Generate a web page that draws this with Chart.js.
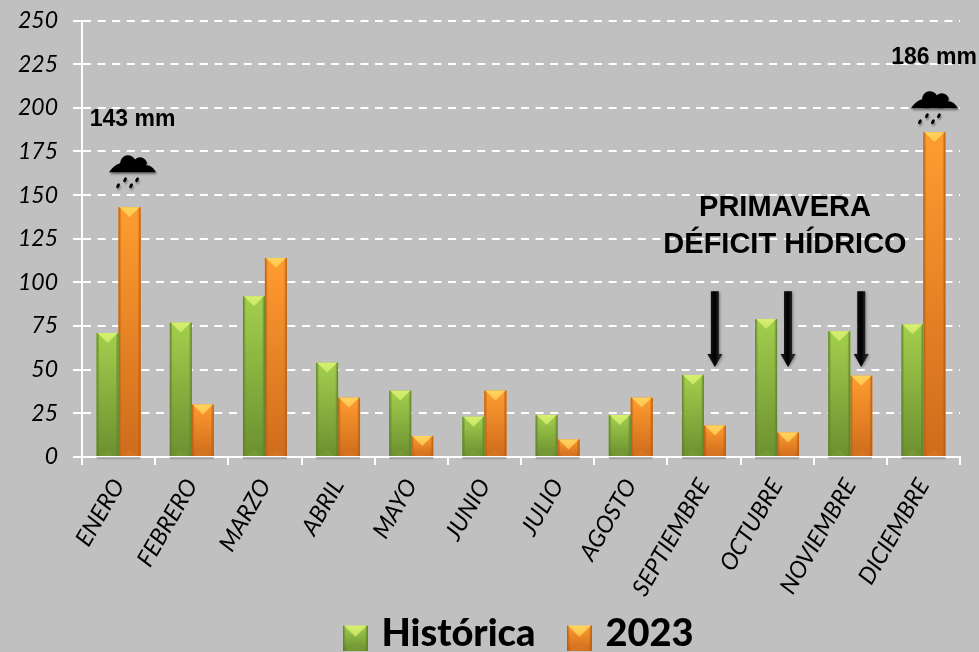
<!DOCTYPE html>
<html><head><meta charset="utf-8">
<style>html,body{margin:0;padding:0;background:#c0c0c0}#w{width:979px;height:652px;position:relative}</style>
<script src="https://cdn.jsdelivr.net/npm/chart.js@4/dist/chart.umd.min.js"></script>
</head><body><div id="w"><canvas id="c" width="979" height="652"></canvas></div>
<script>
const months=['ENERO','FEBRERO','MARZO','ABRIL','MAYO','JUNIO','JULIO','AGOSTO','SEPTIEMBRE','OCTUBRE','NOVIEMBRE','DICIEMBRE'];
const historica=[71,77,92,54,38,23,24,24,47,79,72,76];
const y2023=[143,30,114,34,12,38,10,34,18,14,46.5,186];
const rainMonths=['ENERO','DICIEMBRE'];
const arrowMonths=['SEPTIEMBRE','OCTUBRE','NOVIEMBRE'];
const arrowFrom=95, arrowTo=51.5;
const noteTitle=['PRIMAVERA','DÉFICIT HÍDRICO'];

const GREEN={top:'#a3cf4e',bot:'#6c9030',edge:'#5f7f2b',tri:'#d6f06e',base:'#7d9f3a'};
const ORANGE={top:'#ff9c30',bot:'#cf6c1c',edge:'#b35c15',tri:'#ffd45c',base:'#d87a26'};

function paintBar(ctx,x,y,w,h,p){
  const g=ctx.createLinearGradient(0,y,0,y+h);g.addColorStop(0,p.top);g.addColorStop(1,p.bot);
  ctx.fillStyle=g;ctx.fillRect(x,y,w,h);
  const e=Math.min(3,w/6);
  const l=ctx.createLinearGradient(x,0,x+e,0);l.addColorStop(0,p.edge);l.addColorStop(1,p.edge+'00');
  ctx.fillStyle=l;ctx.fillRect(x,y,e,h);
  const r=ctx.createLinearGradient(x+w,0,x+w-e,0);r.addColorStop(0,p.edge);r.addColorStop(1,p.edge+'00');
  ctx.fillStyle=r;ctx.fillRect(x+w-e,y,e,h);
  const th=Math.min(w*0.45,h*0.6);
  const t=ctx.createLinearGradient(0,y,0,y+th);t.addColorStop(0,p.tri);t.addColorStop(1,p.tri+'bb');
  ctx.fillStyle=t;ctx.beginPath();ctx.moveTo(x+1,y);ctx.lineTo(x+w-1,y);ctx.lineTo(x+w/2,y+th);ctx.closePath();ctx.fill();
  const bh=Math.min(w*0.3,h*0.3);
  ctx.fillStyle=p.base;ctx.globalAlpha=.55;ctx.beginPath();ctx.moveTo(x+3,y+h);ctx.lineTo(x+w-3,y+h);ctx.lineTo(x+w/2,y+h-bh);ctx.closePath();ctx.fill();ctx.globalAlpha=1;
}
function legendIcon(p){
  const c=document.createElement('canvas');c.width=25;c.height=33;
  const x=c.getContext('2d');paintBar(x,0,8,25,25,p);
  return c;
}
const barSkin={id:'barSkin',afterDatasetDraw(ch,a){
  const p=a.index===0?GREEN:ORANGE,ctx=ch.ctx;
  ctx.save();
  a.meta.data.forEach(b=>{
    const s=ctx.createLinearGradient(0,b.base+1,0,b.base+4);s.addColorStop(0,'rgba(60,60,60,.45)');s.addColorStop(1,'rgba(60,60,60,0)');
    ctx.fillStyle=s;ctx.fillRect(b.x-b.width/2,b.base+1,b.width,3);
    paintBar(ctx,b.x-b.width/2,b.y,b.width,b.base-b.y,p);
  });
  ctx.restore();
}};
function cloud(ctx,cx,by){
  ctx.save();
  ctx.shadowColor='rgba(0,0,0,.4)';ctx.shadowBlur=2;ctx.shadowOffsetX=1;ctx.shadowOffsetY=2;
  ctx.fillStyle='#000';ctx.beginPath();
  ctx.moveTo(cx-23.5,by);ctx.lineTo(cx+23.5,by);
  ctx.quadraticCurveTo(cx+19,by-8,cx+13,by-7);
  ctx.arc(cx+7.5,by-8,7,-0.1,Math.PI,true);
  ctx.arc(cx-4.5,by-9,8,-0.1,Math.PI,true);
  ctx.quadraticCurveTo(cx-19,by-7,cx-23.5,by);
  ctx.closePath();ctx.fill();
  ctx.shadowColor='rgba(0,0,0,.35)';
  [[-7.5,7.5],[4.5,7.5],[-14.5,13.5],[-1.5,13.5]].forEach(([dx,dy])=>{
    ctx.beginPath();ctx.ellipse(cx+dx,by+dy,1.5,2.6,0.5,0,7);ctx.fill();
  });
  ctx.restore();
}
function arrow(ctx,x,y0,y1){
  ctx.save();
  ctx.shadowColor='rgba(0,0,0,.35)';ctx.shadowBlur=3;ctx.shadowOffsetX=1;ctx.shadowOffsetY=1;
  const g=ctx.createLinearGradient(x-4,0,x+4,0);g.addColorStop(0,'#111');g.addColorStop(.5,'#000');g.addColorStop(1,'#222');
  ctx.fillStyle=g;ctx.beginPath();
  ctx.moveTo(x-4,y0);ctx.lineTo(x+4,y0);ctx.lineTo(x+4,y1-13);ctx.lineTo(x+7.5,y1-13);ctx.lineTo(x,y1);ctx.lineTo(x-7.5,y1-13);ctx.lineTo(x-4,y1-13);ctx.closePath();ctx.fill();
  ctx.restore();
}
const notes={id:'notes',afterDatasetsDraw(ch){
  const ctx=ch.ctx,sy=ch.scales.y,bars=ch.getDatasetMeta(1).data;
  ctx.save();
  const cloudLift=[35,24],cloudShift=[3,0];
  rainMonths.forEach((m,k)=>{
    const i=months.indexOf(m),b=bars[i];
    cloud(ctx,b.x+cloudShift[k],sy.getPixelForValue(y2023[i])-cloudLift[k]);
  });
  arrowMonths.forEach(m=>{
    const i=months.indexOf(m),b=bars[i];
    arrow(ctx,b.x,sy.getPixelForValue(arrowFrom),sy.getPixelForValue(arrowTo));
  });
  ctx.fillStyle='#000';ctx.textAlign='center';ctx.textBaseline='middle';
  ctx.font='bold 23px "Liberation Sans"';
  ctx.fillText(y2023[0]+' mm',132.5,120);
  ctx.fillText(y2023[11]+' mm',934,58);
  ctx.font='bold 29px "Liberation Sans"';
  ctx.fillText(noteTitle[0],785,208);
  ctx.fillText(noteTitle[1],785,245);
  ctx.restore();
}};
new Chart(document.getElementById('c'),{
  type:'bar',
  data:{labels:months,datasets:[
    {label:'Histórica',data:historica,backgroundColor:GREEN.top,pointStyle:legendIcon(GREEN)},
    {label:'2023',data:y2023,backgroundColor:ORANGE.top,pointStyle:legendIcon(ORANGE)}
  ]},
  plugins:[barSkin,notes,{id:'bg',beforeDraw(ch){ch.ctx.save();ch.ctx.fillStyle='#c0c0c0';ch.ctx.fillRect(0,0,ch.width,ch.height);ch.ctx.restore();}}],
  options:{
    responsive:false,animation:false,devicePixelRatio:1,
    layout:{padding:{top:20.5,right:19,left:0,bottom:-11}},
    datasets:{bar:{barPercentage:1,categoryPercentage:0.6}},
    plugins:{
      tooltip:{enabled:false},
      legend:{position:'bottom',fullSize:false,labels:{usePointStyle:true,pointStyleWidth:14,color:'#000',padding:37,font:{family:'Lato',size:38,weight:'900'}}}
    },
    scales:{
      x:{
        afterFit(s){s.height=121;s._computeLabelArea=()=>undefined;},
        grid:{drawOnChartArea:false,drawTicks:true,tickColor:'#fff',tickLength:8,lineWidth:2,offset:true},
        border:{color:'#fff',width:2},
        ticks:{autoSkip:false,minRotation:60,maxRotation:60,padding:9,color:'#000',font:{family:'Lato',size:23.5,style:'italic'}}
      },
      y:{
        min:0,max:250,
        afterFit(s){s.width=82;s.paddingTop=0;s.paddingBottom=0;},
        grid:{color:'#fff',lineWidth:2,tickLength:9,drawTicks:true,tickBorderDash:[8,6.6]},
        border:{color:'#fff',width:2,dash:[8,6.6]},
        ticks:{stepSize:25,padding:15,color:'#000',font:{family:'Lato',size:23,style:'italic'}}
      }
    }
  }
});
</script></body></html>
